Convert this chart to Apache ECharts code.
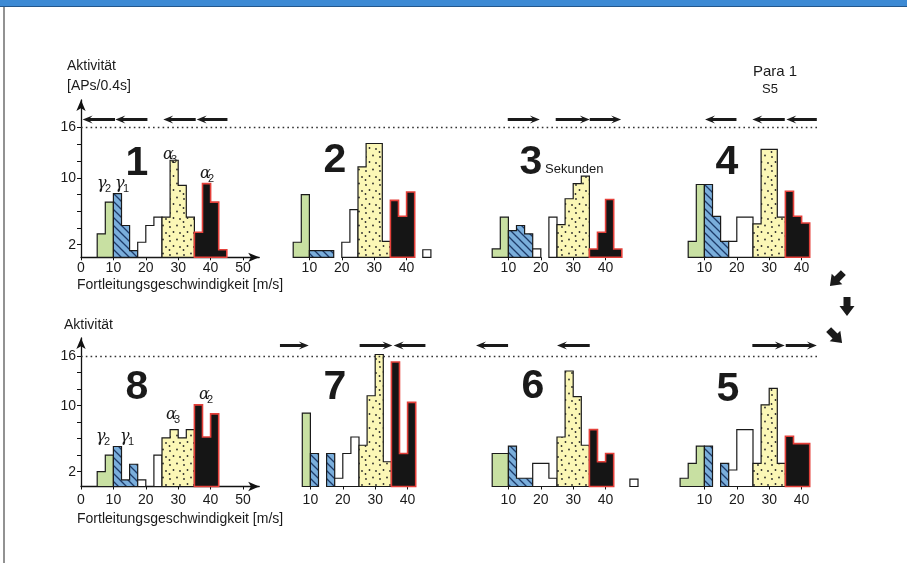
<!DOCTYPE html>
<html><head><meta charset="utf-8">
<script src="https://cdn.jsdelivr.net/npm/echarts@6/dist/echarts.min.js"></script>
<style>html,body{margin:0;padding:0;background:#fff}#c{width:907px;height:563px}</style>
</head><body><div id="c"></div><script>
// ---------------- DATA ----------------
// velocity bin edges [m/s]
const velocityEdges = [2.5,5,7.5,10,12.5,15,17.5,20,22.5,25,27.5,30,32.5,35,37.5,40,42.5,45,47.5,50];
// fibre group of each bin
const binGroup = ['g2','g2','g2','g1','g1','g1','w','w','w','a3','a3','a3','a3','a2','a2','a2','a2','w2','w2'];
// activity [APs/0.4s] per bin, one array per stimulus panel
const panel1 = [0,3.3,7.1,8.1,4.3,1.3,2.3,4.3,5.3,5.3,12.1,9.1,5.3,3.5,9.3,7.1,1.4,0,0];
const panel2 = [0,2.3,8.0,1.3,1.3,1.3,0,2.3,6.2,11.3,14.1,14.1,2.4,7.3,5.4,8.3,0,1.4,0];
const panel3 = [0,1.5,5.3,3.7,4.3,3.3,1.5,0,5.3,4.4,7.5,9.3,10.2,1.5,3.5,7.4,1.5,0,0];
const panel4 = [0,2.4,9.2,9.2,5.4,2.4,2.4,5.3,5.3,4.5,13.4,13.4,5.3,8.4,5.4,4.6,0,0,0];
const panel5 = [1.2,3.0,5.1,5.1,0,3.0,2.2,7.1,7.1,3.0,10.1,12.1,3.0,6.3,5.4,5.4,0,0,0];
const panel6 = [0,4.2,4.2,5.1,1.2,1.2,3.0,3.0,1.2,6.2,14.2,11.1,5.2,7.1,3.2,4.2,0,0,1.1];
const panel7 = [0,0,9.1,4.2,0,4.2,1.2,4.2,6.2,5.2,11.2,16.2,3.2,15.3,4.2,10.4,0,0,0];
const panel8 = [0,2.0,4.0,5.05,1.0,2.9,1.0,0,4.0,6.1,7.1,6.1,7.1,10.1,6.2,9.0,0,0,0];
// stimulus direction arrows: [from m/s, to m/s, direction (-1 left, 1 right)]
const arrowsP1 = [[0.5,10.5,-1],[10.6,20.5,-1],[25.4,35.4,-1],[35.7,45.2,-1]];
const arrowsP2 = [];
const arrowsP3 = [[9.8,19.7,1],[24.6,35.1,1],[35.1,44.8,1]];
const arrowsP4 = [[10.2,19.9,-1],[24.8,34.8,-1],[35.3,44.7,-1]];
const arrowsP5 = [[24.8,34.8,1],[35.1,44.7,1]];
const arrowsP6 = [[0,9.9,-1],[25,35.1,-1]];
const arrowsP7 = [[0.6,9.5,1],[25.2,35.3,1],[35.7,45.5,-1]];
const arrowsP8 = [];
const yTicks = [2,4,6,8,10,12,14,16];
const yLabels = [2,10,16];
const xTicksFull = [0,10,20,30,40,50];
const xTicksShort = [10,20,30,40];
const refLevel = 16;

// ---------------- STYLE / LAYOUT ----------------
const FONT = "'Liberation Sans', Arial, sans-serif";
const ROWS = [
  {top:100, height:157.3, min:0.5, max:19.3, arrowLevel:16.97, labelMargin:4},
  {top:338, height:148.5, min:0.2, max:18.2, arrowLevel:17.29, labelMargin:7}
];
const PANELS = [
  {row:0, left:81,  max:55, first:true,  h:panel1, arrows:arrowsP1},
  {row:0, left:277, max:50, first:false, h:panel2, arrows:arrowsP2},
  {row:0, left:476, max:50, first:false, h:panel3, arrows:arrowsP3},
  {row:0, left:672, max:50, first:false, h:panel4, arrows:arrowsP4},
  {row:1, left:81,  max:55, first:true,  h:panel8, arrows:arrowsP8},
  {row:1, left:278, max:50, first:false, h:panel7, arrows:arrowsP7},
  {row:1, left:476, max:50, first:false, h:panel6, arrows:arrowsP6},
  {row:1, left:672, max:50, first:false, h:panel5, arrows:arrowsP5}
];

function hatchCanvas(){
  const c=document.createElement('canvas'); c.width=8; c.height=8;
  const x=c.getContext('2d'); x.fillStyle='#7aaedb'; x.fillRect(0,0,8,8);
  x.strokeStyle='#1d3a68'; x.lineWidth=1.3; x.beginPath();
  x.moveTo(-1,-1); x.lineTo(9,9); x.moveTo(-5,3); x.lineTo(5,13); x.moveTo(3,-5); x.lineTo(13,5); x.stroke();
  return c;
}
function dotCanvas(){
  const c=document.createElement('canvas'); c.width=14; c.height=14;
  const x=c.getContext('2d'); x.fillStyle='#fbf7b6'; x.fillRect(0,0,14,14);
  x.fillStyle='#2a2a2a';
  [[2,3],[9,1.5],[5.5,8],[12,9],[1.5,12]].forEach(p=>{x.beginPath();x.arc(p[0],p[1],0.9,0,Math.PI*2);x.fill();});
  return c;
}
const groupStyle = {
  g2:{fill:'#c8e0a2', stroke:'#1a1a1a', lw:1.2},
  g1:{fill:{image:hatchCanvas(), repeat:'repeat'}, stroke:'#1a1a1a', lw:1.2},
  w:{fill:'#ffffff', stroke:'#1a1a1a', lw:1.2},
  a3:{fill:{image:dotCanvas(), repeat:'repeat'}, stroke:'#1a1a1a', lw:1.2},
  a2:{fill:'#151515', stroke:'#e4403a', lw:1.6},
  w2:{fill:'#ffffff', stroke:'#1a1a1a', lw:1.2}
};

function buildRuns(h){
  const runs=[]; let cur=null;
  for(let i=0;i<h.length;i++){
    if(h[i]>0 && cur && cur.g===binGroup[i] && cur.i1===i-1){ cur.i1=i; }
    else if(h[i]>0){ cur={g:binGroup[i], i0:i, i1:i}; runs.push(cur); }
    else cur=null;
  }
  return runs;
}

const grid=[], xAxis=[], yAxis=[], series=[];
ROWS.forEach((r,ri)=>{
  grid.push({left:81, right:87, top:r.top, height:r.height});
  xAxis.push({gridIndex:ri, type:'value', min:0, max:1, show:false});
  yAxis.push({gridIndex:ri, type:'value', min:r.min, max:r.max,
    axisLine:{show:true, symbol:['none','arrow'], symbolSize:[7,11], lineStyle:{color:'#111', width:1.3}},
    axisTick:{show:true, length:4, customValues:yTicks, lineStyle:{color:'#111'}},
    axisLabel:{customValues:yLabels, fontSize:14, color:'#1a1a1a', margin:5, fontFamily:FONT},
    splitLine:{show:false}});
  series.push({type:'line', xAxisIndex:ri, yAxisIndex:ri, data:[[0,r.min],[1,r.min]], symbol:'none', silent:true,
    lineStyle:{opacity:0}, markLine:{silent:true, symbol:'none', label:{show:false},
      lineStyle:{type:[1.6,3.2], color:'#333', width:1.3}, data:[{yAxis:refLevel}]}});
});
PANELS.forEach((p,pi)=>{
  const gi = pi+2, r = ROWS[p.row];
  const w = p.max*3.24;
  grid.push({left:p.left, width:w, top:r.top, height:r.height});
  const ticks = p.first ? xTicksFull : xTicksShort;
  xAxis.push({gridIndex:gi, type:'value', min:0, max:p.max,
    axisLine:{show:p.first, symbol:['none','arrow'], symbolSize:[7,11], lineStyle:{color:'#111', width:1.3}},
    axisTick:{show:true, length:3, customValues:ticks, lineStyle:{color:'#111'}},
    axisLabel:{customValues:ticks, fontSize:14, color:'#1a1a1a', margin:r.labelMargin, fontFamily:FONT},
    splitLine:{show:false}});
  yAxis.push({gridIndex:gi, type:'value', min:r.min, max:r.max, show:false});
  const h = p.h, runs = buildRuns(h), base = r.min;
  series.push({type:'custom', xAxisIndex:gi, yAxisIndex:gi, silent:true,
    data: runs.map(u=>[velocityEdges[u.i0], velocityEdges[u.i1+1]]),
    renderItem:(params, api)=>{
      const u = runs[params.dataIndex];
      const pts=[api.coord([velocityEdges[u.i0], base])];
      for(let i=u.i0;i<=u.i1;i++){ pts.push(api.coord([velocityEdges[i], h[i]])); pts.push(api.coord([velocityEdges[i+1], h[i]])); }
      pts.push(api.coord([velocityEdges[u.i1+1], base]));
      const st = groupStyle[u.g];
      return {type:'polygon', shape:{points:pts}, style:{fill:st.fill, stroke:st.stroke, lineWidth:st.lw, lineJoin:'miter'}};
    }});
  const lvl = r.arrowLevel;
  series.push({type:'custom', xAxisIndex:gi, yAxisIndex:gi, silent:true, clip:false,
    data: p.arrows.map(a=>[a[0],a[1],a[2]]),
    renderItem:(params, api)=>{
      const p0 = api.coord([api.value(0), lvl]), p1 = api.coord([api.value(1), lvl]);
      const dir = api.value(2), y = p0[1];
      const tip = dir<0 ? p0[0] : p1[0], tail = dir<0 ? p1[0] : p0[0];
      const s = dir<0 ? 1 : -1, hl=10, hh=3.9, sw=1.5;
      return {type:'polygon', shape:{points:[[tip,y],[tip+s*hl,y-hh],[tip+s*hl*0.75,y-sw],[tail,y-sw],[tail,y+sw],[tip+s*hl*0.75,y+sw],[tip+s*hl,y+hh]]},
        style:{fill:'#1a1a1a'}};
    }});
});

const Z = 100;
function txt(x,y,t,size){ return {type:'text', z:Z, x:x, y:y, style:{text:t, fontSize:size, fontFamily:FONT, fill:'#1a1a1a', textAlign:'left', textVerticalAlign:'middle'}}; }
function greek(x,y,letter,sub){
  return [
    {type:'text', z:Z, x:x, y:y, style:{text:letter, fontSize:16, fontFamily:"'DejaVu Serif', serif", fontStyle:'italic', fill:'#1a1a1a', textAlign:'left', textVerticalAlign:'middle'}},
    {type:'text', z:Z, x:x+8, y:y+5, style:{text:sub, fontSize:11, fontFamily:FONT, fill:'#1a1a1a', textAlign:'left', textVerticalAlign:'middle'}}
  ];
}
function bigNum(x,y,t){ return {type:'text', z:Z, x:x, y:y, style:{text:t, fontSize:41, fontWeight:'bold', fontFamily:FONT, fill:'#1a1a1a', textAlign:'center', textVerticalAlign:'middle'}}; }
function sideArrow(x,y,rot){ return {type:'polygon', z:Z, x:x, y:y, rotation:rot, shape:{points:[[-9,-3.5],[0,-3.5],[0,-7.5],[10,0],[0,7.5],[0,3.5],[-9,3.5]]}, style:{fill:'#1a1a1a'}}; }

const graphic = [
  {type:'rect', z:Z, shape:{x:0,y:0,width:907,height:6}, style:{fill:'#3d8ad4'}},
  {type:'rect', z:Z, shape:{x:0,y:6,width:907,height:1}, style:{fill:'#24578c'}},
  {type:'line', z:Z, shape:{x1:4,y1:7,x2:4,y2:563}, style:{stroke:'#6e6e6e', lineWidth:1.5}},
  txt(67,66,'Aktivität',14), txt(67,86,'[APs/0.4s]',14),
  txt(77,285,'Fortleitungsgeschwindigkeit [m/s]',14),
  txt(64,325,'Aktivität',14),
  txt(77,519,'Fortleitungsgeschwindigkeit [m/s]',14),
  {type:'text', z:Z, x:775, y:72, style:{text:'Para 1', fontSize:15, fontFamily:FONT, fill:'#1a1a1a', textAlign:'center', textVerticalAlign:'middle'}},
  {type:'text', z:Z, x:770, y:89, style:{text:'S5', fontSize:13, fontFamily:FONT, fill:'#1a1a1a', textAlign:'center', textVerticalAlign:'middle'}},
  bigNum(137,164,'1'), bigNum(335,161,'2'), bigNum(531,163,'3'), bigNum(727,163,'4'),
  bigNum(137,388,'8'), bigNum(335,388,'7'), bigNum(533,387,'6'), bigNum(728,390,'5'),
  txt(545,169,'Sekunden',13),
  ...greek(97,184,'γ','2'), ...greek(115,184,'γ','1'), ...greek(163,155,'α','3'), ...greek(200,174,'α','2'),
  ...greek(96,437,'γ','2'), ...greek(120,437,'γ','1'), ...greek(166,415,'α','3'), ...greek(199,395,'α','2'),
  sideArrow(837,279,-3*Math.PI/4), sideArrow(847,306,-Math.PI/2), sideArrow(835,336,-Math.PI/4)
];

const chart = echarts.init(document.getElementById('c'), null, {renderer:'canvas'});
chart.setOption({animation:false, backgroundColor:'#fff', grid, xAxis, yAxis, series, graphic});
</script></body></html>
